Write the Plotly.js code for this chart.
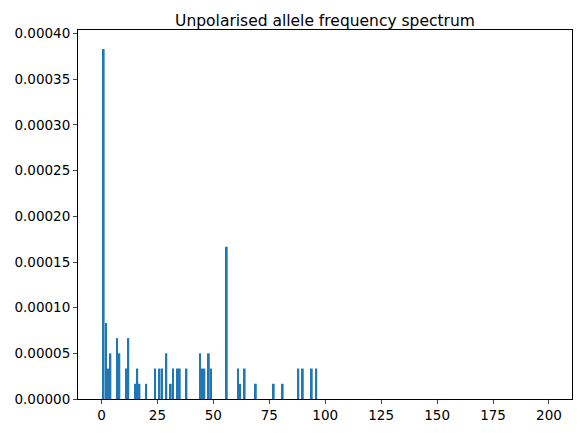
<!DOCTYPE html>
<html>
<head>
<script src="https://cdn.plot.ly/plotly-3.0.1.min.js"></script>
</head>
<body style="margin:0">
<div id="plot" style="width:583px;height:433px"></div>
<script>
  // allele counts and their frequency (in units of 1/60000)
  const counts = [1, 2, 3, 4, 7, 8, 11, 12, 15, 16, 17, 20, 24, 26, 27, 29, 31, 32, 34, 35, 38,
                  44, 45, 46, 48, 49, 56, 61, 62, 64, 69, 77, 81, 88, 90, 94, 96];
  const units = [23, 5, 2, 3, 4, 3, 2, 4, 1, 2, 1, 1, 2, 2, 2, 3, 1, 2, 2, 2, 2,
                 3, 2, 2, 3, 2, 10, 2, 1, 2, 1, 1, 1, 2, 2, 2, 2];
  const unit = 1 / 60000;
  const freq = units.map(u => u * unit);

  var trace = {
    x: counts,
    y: freq,
    type: 'bar',
    width: 0.8,
    marker: {color: '#1f77b4'}
  };

  var axisStyle = {
    showgrid: false,
    zeroline: false,
    showline: true,
    mirror: true,
    linecolor: 'black',
    linewidth: 1,
    ticks: 'outside',
    ticklen: 4,
    tickfont: {size: 13.5, color: 'black'}
  };

  var layout = {
    title: {text: 'Unpolarised allele frequency spectrum', font: {family: 'DejaVu Sans', size: 15.5, color: 'black'},
            xref: 'paper', x: 0.5, y: 0.965},
    font: {family: 'DejaVu Sans'},
    margin: {l: 78, r: 11, t: 30, b: 34},
    paper_bgcolor: 'white',
    plot_bgcolor: 'white',
    showlegend: false,
    xaxis: Object.assign({}, axisStyle, {range: [-10.5, 210.3], tickvals: [0, 25, 50, 75, 100, 125, 150, 175, 200]}),
    yaxis: Object.assign({}, axisStyle, {range: [0, 0.000404], tickvals: [0, 0.00005, 0.0001, 0.00015, 0.0002, 0.00025, 0.0003, 0.00035, 0.0004],
      ticktext: ['0.00000', '0.00005', '0.00010', '0.00015', '0.00020', '0.00025', '0.00030', '0.00035', '0.00040']})
  };

  Plotly.newPlot('plot', [trace], layout, {displayModeBar: false});
</script>
</body>
</html>
